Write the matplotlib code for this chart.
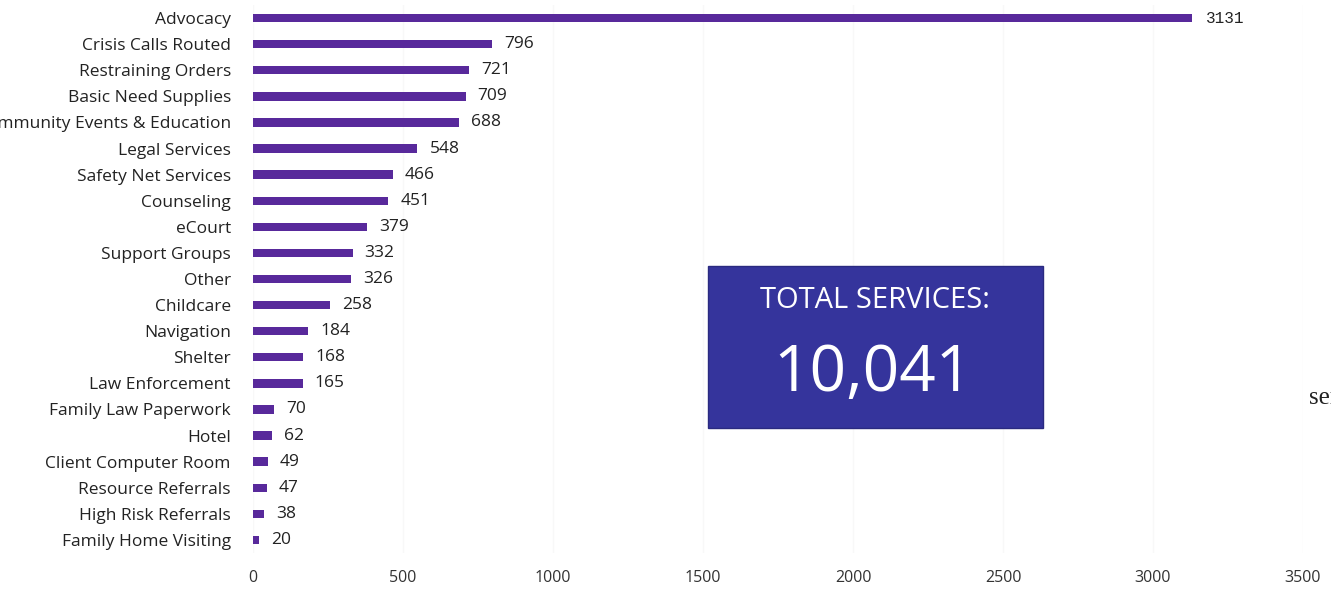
import matplotlib.pyplot as plt
from matplotlib.patches import Rectangle

# Services provided, by category
categories = ['Advocacy', 'Crisis Calls Routed', 'Restraining Orders', 'Basic Need Supplies',
              'Community Events & Education', 'Legal Services', 'Safety Net Services',
              'Counseling', 'eCourt', 'Support Groups', 'Other', 'Childcare', 'Navigation',
              'Shelter', 'Law Enforcement', 'Family Law Paperwork', 'Hotel',
              'Client Computer Room', 'Resource Referrals', 'High Risk Referrals',
              'Family Home Visiting']
counts = [3131, 796, 721, 709, 688, 548, 466, 451, 379, 332, 326, 258, 184, 168, 165,
          70, 62, 49, 47, 38, 20]
total_label = '10,041'
xticks = [0, 500, 1000, 1500, 2000, 2500, 3000, 3500]

W, H = 1331, 590
fig = plt.figure(figsize=(W / 100, H / 100), dpi=100)
ax = fig.add_axes([253 / W, 1 - 553 / H, (1303 - 253) / W, (553 - 5) / H])

ypos = list(range(len(categories)))
ax.barh(ypos, counts, height=0.32, color='#58299b')
ax.set_xlim(0, 3500)
ax.set_ylim(len(categories) - 0.5, -0.5)

ax.set_yticks(ypos)
ax.set_yticklabels(categories, fontsize=12.5, family='Open Sans', color='#222222')
ax.set_xticks(xticks)
ax.set_xticklabels([str(t) for t in xticks], fontsize=11.5, family='Open Sans', color='#333333')
ax.tick_params(axis='y', length=0, pad=16)
ax.tick_params(axis='x', length=0, pad=12)
ax.grid(axis='x', color='#f8f8f8', linewidth=1)
ax.set_axisbelow(True)
for s in ax.spines.values():
    s.set_visible(False)

# value labels after each bar
for i, v in enumerate(counts):
    fam = 'Liberation Mono' if i == 0 else 'Open Sans'
    ax.text(v + (45 if i == 0 else 40), i, str(v), va='center', ha='left',
            fontsize=11.5 if i == 0 else 12.5, family=fam, color='#222222')

# total services box
fig.patches.append(Rectangle((708 / W, 1 - 428 / H), (1043 - 708) / W, (428 - 266) / H,
                             transform=fig.transFigure, facecolor='#35349c',
                             edgecolor='#2a2a80', linewidth=1))
fig.text(875 / W, 1 - 301 / H, 'TOTAL SERVICES:', ha='center', va='center',
         fontsize=21, family='Open Sans', color='white')
fig.text(873 / W, 1 - 374 / H, total_label, ha='center', va='center',
         fontsize=46, family='Open Sans', color='white')

fig.text(1309 / W, 1 - 398 / H, 'services', ha='left', va='center',
         fontsize=18, family='Liberation Serif', color='#222222')

fig.savefig('out.png', dpi=100)
